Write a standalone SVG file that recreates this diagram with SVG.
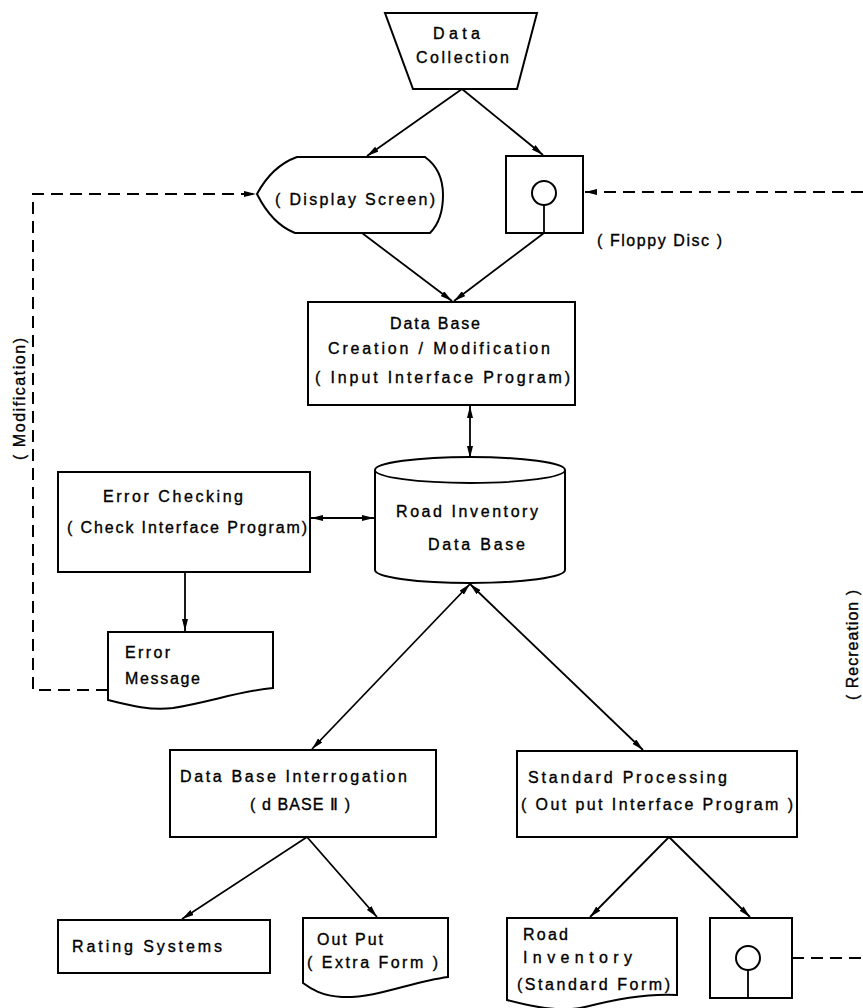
<svg xmlns="http://www.w3.org/2000/svg" width="863" height="1008" viewBox="0 0 863 1008">
<style>
.s{fill:#fff;stroke:#000;stroke-width:2}
.t{font-family:"Liberation Sans",Arial,sans-serif;font-size:16px;fill:#000;stroke:#000;stroke-width:0.35}
.c{fill:none;stroke:#000;stroke-width:1.8}
.d{fill:none;stroke:#000;stroke-width:2;stroke-dasharray:12 7}
</style>
<defs>
<marker id="ah" viewBox="0 0 12 6" refX="12" refY="3" markerWidth="12" markerHeight="6" orient="auto-start-reverse" markerUnits="userSpaceOnUse">
<path d="M0,0 L12,3 L0,6 Z" fill="#000"/>
</marker>
</defs>
<rect width="863" height="1008" fill="#fff"/>

<g id="connectors">
<line class="c" x1="462" y1="89" x2="367" y2="156" marker-end="url(#ah)"/>
<line class="c" x1="462" y1="89" x2="543" y2="155" marker-end="url(#ah)"/>
<line class="c" x1="362" y1="233" x2="452" y2="301" marker-end="url(#ah)"/>
<line class="c" x1="544" y1="233" x2="454" y2="301" marker-end="url(#ah)"/>
<line class="c" x1="470" y1="406" x2="470" y2="458" marker-start="url(#ah)" marker-end="url(#ah)"/>
<line class="c" x1="311" y1="518" x2="374" y2="518" marker-start="url(#ah)" marker-end="url(#ah)"/>
<line class="c" x1="185" y1="572" x2="185" y2="631" marker-end="url(#ah)"/>
<line class="c" x1="470" y1="584" x2="312" y2="749" marker-start="url(#ah)" marker-end="url(#ah)"/>
<line class="c" x1="470" y1="584" x2="643" y2="750" marker-start="url(#ah)" marker-end="url(#ah)"/>
<line class="c" x1="307" y1="837" x2="182" y2="919" marker-end="url(#ah)"/>
<line class="c" x1="307" y1="837" x2="377" y2="917" marker-end="url(#ah)"/>
<line class="c" x1="669" y1="837" x2="590" y2="917" marker-end="url(#ah)"/>
<line class="c" x1="669" y1="837" x2="750" y2="917" marker-end="url(#ah)"/>
<polyline class="d" points="108,690 33,690 33,194 256,194" marker-end="url(#ah)"/>
<line class="d" x1="863" y1="192" x2="585" y2="192" marker-end="url(#ah)"/>
<line class="d" x1="792" y1="958" x2="863" y2="958"/>
</g>

<g id="data-collection">
<path class="s" d="M385,13 L537,13 L517,89 L413,89 Z"/>
<text class="t" x="433" y="39" textLength="47">Data</text>
<text class="t" x="416" y="63" textLength="93">Collection</text>
</g>

<g id="display-screen">
<path class="s" d="M257,194 Q272,166 297,157 L425,157 Q443,170 443,195 Q443,220 430,233 L295,233 Q272,224 257,194 Z"/>
<text class="t" x="275" y="205" textLength="160">( Display Screen)</text>
</g>

<g id="floppy-disc-1">
<rect class="s" x="506" y="156" width="77" height="77"/>
<circle class="s" cx="544" cy="193" r="12"/>
<line class="c" x1="544" y1="205" x2="544" y2="233" stroke-width="2"/>
<text class="t" x="597" y="246" textLength="125">( Floppy Disc )</text>
</g>

<g id="db-creation">
<rect class="s" x="308" y="302" width="267" height="103"/>
<text class="t" x="390" y="329" textLength="90">Data Base</text>
<text class="t" x="328" y="354" textLength="222">Creation / Modification</text>
<text class="t" x="315" y="383" textLength="255">( Input Interface Program)</text>
</g>

<g id="road-inventory-db">
<path class="s" d="M375,470 A95,13 0 0 1 565,470 L565,570 A95,13 0 0 1 375,570 Z"/>
<path class="c" d="M375,470 A95,13 0 0 0 565,470" stroke-width="2"/>
<text class="t" x="396" y="517" textLength="142">Road Inventory</text>
<text class="t" x="428" y="550" textLength="97">Data Base</text>
</g>

<g id="error-checking">
<rect class="s" x="58" y="472" width="252" height="100"/>
<text class="t" x="103" y="502" textLength="140">Error Checking</text>
<text class="t" x="67" y="533" textLength="240">( Check Interface Program)</text>
</g>

<g id="error-message">
<path class="s" d="M108,632 L273,632 L273,688 C240,691 210,702 173,708 C150,711 128,705 108,700 Z"/>
<text class="t" x="125" y="658" textLength="45">Error</text>
<text class="t" x="125" y="684" textLength="75">Message</text>
</g>

<g id="db-interrogation">
<rect class="s" x="170" y="750" width="266" height="87"/>
<text class="t" x="180" y="782" textLength="227">Data Base Interrogation</text>
<text class="t" x="250" y="810" textLength="100">( d BASE Ⅱ )</text>
</g>

<g id="standard-processing">
<rect class="s" x="517" y="751" width="280" height="86"/>
<text class="t" x="528" y="783" textLength="199">Standard  Processing</text>
<text class="t" x="521" y="810" textLength="272">( Out put Interface Program )</text>
</g>

<g id="rating-systems">
<rect class="s" x="58" y="920" width="212" height="53"/>
<text class="t" x="72" y="952" textLength="150">Rating  Systems</text>
</g>

<g id="output-extra">
<path class="s" d="M303,918 L448,918 L448,977 C410,982 378,998 342,997 C322,996 311,989 303,983 Z"/>
<text class="t" x="317" y="945" textLength="66">Out Put</text>
<text class="t" x="307" y="968" textLength="131">( Extra Form )</text>
</g>

<g id="road-inventory-standard">
<path class="s" d="M507,918 L677,918 L677,995 C645,993 612,1000 585,1007 C560,1013 530,1006 507,1000 Z"/>
<text class="t" x="523" y="940" textLength="45">Road</text>
<text class="t" x="523" y="963" textLength="109">Inventory</text>
<text class="t" x="517" y="990" textLength="153">(Standard Form)</text>
</g>

<g id="floppy-disc-2">
<rect class="s" x="710" y="918" width="82" height="80"/>
<circle class="s" cx="748" cy="958" r="12"/>
<line class="c" x1="748" y1="970" x2="748" y2="998" stroke-width="2"/>
</g>

<g id="labels">
<text class="t" transform="translate(25,460) rotate(-90)" textLength="122">( Modification)</text>
<text class="t" transform="translate(858,700) rotate(-90)" textLength="110">( Recreation )</text>
</g>
</svg>
